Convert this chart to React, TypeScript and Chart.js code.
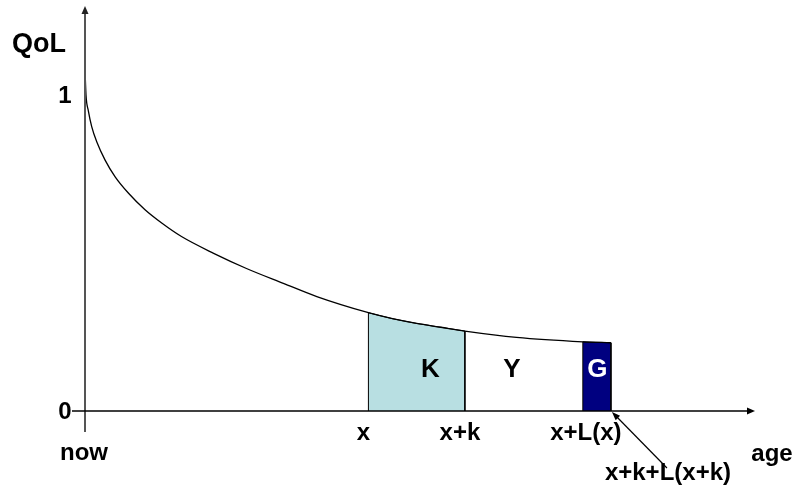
import React, { useEffect, useRef } from "react";
import { Chart, registerables } from "chart.js";

Chart.register(...registerables);

// QoL curve (age in arbitrary units, "now" = 0)
const curveAges = [0, 0.15, 0.5, 1.0, 1.75, 3.0, 4.5, 6.5, 9.0, 11.5, 14.4, 19.2, 24.1, 29.6, 34.6, 42.3, 45.9, 49.5, 53.1, 56.7, 64.4, 74.3, 78.5];
const curveQol = [1.08, 1.0, 0.95, 0.9, 0.852, 0.794, 0.741, 0.689, 0.636, 0.594, 0.552, 0.499, 0.451, 0.404, 0.362, 0.311, 0.292, 0.277, 0.265, 0.253, 0.233, 0.219, 0.216];

// Marker ages on the age axis
const markerAges = [42.3, 56.7, 74.3, 78.5];
const markerLabels = ["x", "x+k", "x+L(x)", "x+k+L(x+k)"];

// K region (between x and x+k, under the curve)
const kAges = [42.3, 42.3, 45.9, 49.5, 53.1, 56.7, 56.7];
const kQol = [0, 0.311, 0.292, 0.277, 0.265, 0.253, 0];

// G region (between x+L(x) and x+k+L(x+k))
const gAges = [74.3, 74.3, 78.5, 78.5];
const gQol = [0, 0.219, 0.216, 0];

// Y-axis tick labels
const yTickValues = [0, 1];
const yTickLabels = ["0", "1"];

const FONT = '"Liberation Sans", Arial, Helvetica, sans-serif';

const toPoints = (xs: number[], ys: number[]) => xs.map((x, i) => ({ x, y: ys[i] }));

const decorPlugin = {
  id: "decor",
  afterDatasetsDraw(chart: any) {
    const ctx = chart.ctx as CanvasRenderingContext2D;
    const xs = chart.scales.x;
    const ys = chart.scales.y;
    const x0 = xs.getPixelForValue(0);
    const y0 = ys.getPixelForValue(0);
    const area = chart.chartArea;

    ctx.save();
    // y axis
    ctx.strokeStyle = "#555555";
    ctx.lineWidth = 2;
    ctx.beginPath();
    ctx.moveTo(x0, y0 + 21);
    ctx.lineTo(x0, area.top + 5);
    ctx.stroke();
    ctx.fillStyle = "#222222";
    ctx.beginPath();
    ctx.moveTo(x0, area.top);
    ctx.lineTo(x0 - 3.5, area.top + 8);
    ctx.lineTo(x0 + 3.5, area.top + 8);
    ctx.closePath();
    ctx.fill();

    // x axis
    ctx.strokeStyle = "#000000";
    ctx.lineWidth = 1.5;
    ctx.beginPath();
    ctx.moveTo(x0 - 13, y0);
    ctx.lineTo(area.right - 5, y0);
    ctx.stroke();
    ctx.fillStyle = "#000000";
    ctx.beginPath();
    ctx.moveTo(area.right, y0);
    ctx.lineTo(area.right - 8, y0 - 3.5);
    ctx.lineTo(area.right - 8, y0 + 3.5);
    ctx.closePath();
    ctx.fill();

    // pointer arrow to x+k+L(x+k)
    const gx = xs.getPixelForValue(markerAges[3]);
    const sx = gx + 56;
    const sy = y0 + 57;
    const tx = gx + 1;
    const ty = y0 + 1;
    ctx.lineWidth = 1.2;
    ctx.beginPath();
    ctx.moveTo(sx, sy);
    ctx.lineTo(tx + 4, ty + 4);
    ctx.stroke();
    const ang = Math.atan2(ty - sy, tx - sx);
    ctx.beginPath();
    ctx.moveTo(tx, ty);
    ctx.lineTo(tx - 9 * Math.cos(ang - 0.35), ty - 9 * Math.sin(ang - 0.35));
    ctx.lineTo(tx - 9 * Math.cos(ang + 0.35), ty - 9 * Math.sin(ang + 0.35));
    ctx.closePath();
    ctx.fill();

    // texts
    ctx.fillStyle = "#000000";
    ctx.textBaseline = "alphabetic";
    ctx.textAlign = "center";

    ctx.font = `bold 27px ${FONT}`;
    ctx.fillText("QoL", 39, 52);

    ctx.font = `bold 24px ${FONT}`;
    yTickValues.forEach((v, i) => {
      ctx.fillText(yTickLabels[i], x0 - 20, ys.getPixelForValue(v) + 8);
    });

    ctx.fillText("now", x0 - 1, y0 + 49);
    ctx.fillText("age", 772, y0 + 50);

    const labelOffsets = [-5, -5, 3, 57];
    const labelDy = [29, 29, 29, 69];
    markerLabels.forEach((t, i) => {
      ctx.fillText(t, xs.getPixelForValue(markerAges[i]) + labelOffsets[i], y0 + labelDy[i]);
    });

    ctx.font = `bold 26px ${FONT}`;
    ctx.fillText("K", xs.getPixelForValue(markerAges[0]) + 62, y0 - 34);
    ctx.fillText("Y", xs.getPixelForValue(markerAges[1]) + 47, y0 - 34);
    ctx.fillStyle = "#ffffff";
    ctx.fillText("G", (xs.getPixelForValue(markerAges[2]) + gx) / 2 + 0.5, y0 - 34);
    ctx.restore();
  },
};

export default function App() {
  const canvasRef = useRef<HTMLCanvasElement | null>(null);

  useEffect(() => {
    const canvas = canvasRef.current;
    if (!canvas) return;
    const chart = new Chart(canvas, {
      type: "line",
      data: {
        datasets: [
          {
            label: "QoL",
            data: toPoints(curveAges, curveQol),
            borderColor: "#000000",
            borderWidth: 1.3,
            pointRadius: 0,
            cubicInterpolationMode: "monotone",
            fill: false,
          },
          {
            label: "G",
            data: toPoints(gAges, gQol),
            borderColor: "#000000",
            borderWidth: 1,
            backgroundColor: "#000080",
            pointRadius: 0,
            tension: 0,
            fill: "origin",
          },
          {
            label: "K",
            data: toPoints(kAges, kQol),
            borderColor: "#000000",
            borderWidth: 1,
            backgroundColor: "#b8dfe2",
            pointRadius: 0,
            tension: 0,
            fill: "origin",
          },
        ],
      },
      options: {
        responsive: false,
        animation: false,
        devicePixelRatio: 1,
        layout: { padding: { left: 85, right: 38, top: 6, bottom: 79 } },
        plugins: {
          legend: { display: false },
          tooltip: { enabled: false },
          title: { display: false },
        },
        scales: {
          x: { type: "linear", min: 0, max: 100, display: false },
          y: { type: "linear", min: 0, max: 1.2816, display: false },
        },
        events: [],
      } as any,
      plugins: [decorPlugin],
    });
    return () => chart.destroy();
  }, []);

  return (
    <div style={{ position: "fixed", left: 0, top: 0, width: 793, height: 490, background: "#ffffff" }}>
      <canvas ref={canvasRef} width={793} height={490} style={{ display: "block" }} />
    </div>
  );
}
